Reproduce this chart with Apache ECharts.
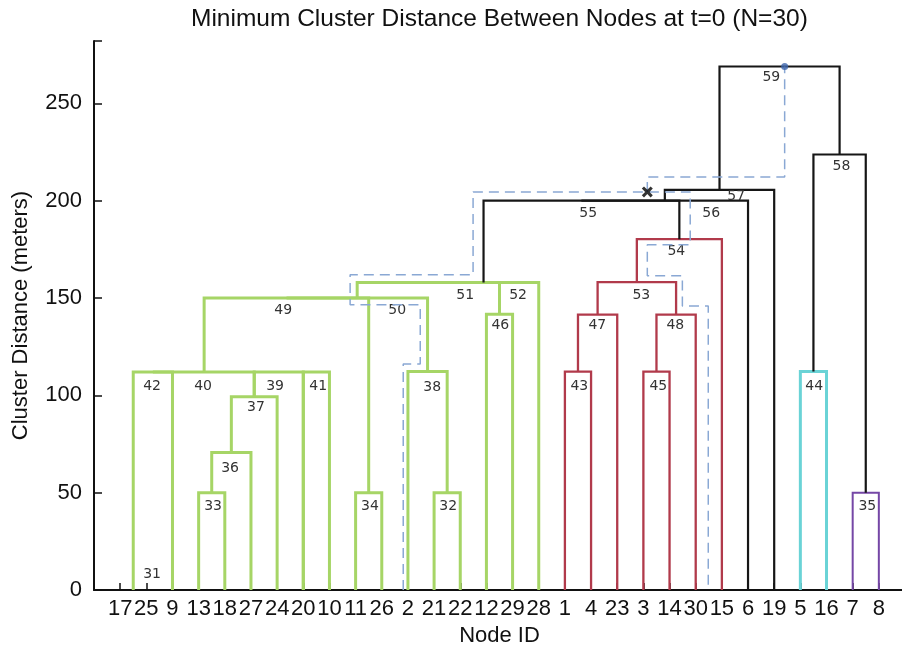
<!DOCTYPE html>
<html><head><meta charset="utf-8">
<script src="https://cdn.jsdelivr.net/npm/echarts@6/dist/echarts.min.js"></script>
<style>html,body{margin:0;padding:0;background:#fff}#c{width:902px;height:648px}</style>
</head><body><div id="c"></div>
<script>
// Leaf order along the x axis (leaf index 1..30)
const leafLabels = ["17","25","9","13","18","27","24","20","10","11","26","2","21","22","12","29","28","1","4","23","3","14","30","15","6","19","5","16","7","8"];

// Dendrogram links: [id, xLeft, xRight, yLeftBottom, yRightBottom, yTop, colour group]
const links = [
  [31, 1, 2, 0, 0, 0, "g"],
  [42, 1.5, 3, 0, 0, 112, "g"],
  [33, 4, 5, 0, 0, 50, "g"],
  [36, 4.5, 6, 50, 0, 70.6, "g"],
  [37, 5.25, 7, 70.6, 0, 99.3, "g"],
  [40, 2.25, 6.125, 112, 99.3, 112, "g"],
  [39, 6.125, 8, 99.3, 0, 112, "g"],
  [41, 8, 9, 0, 0, 112, "g"],
  [34, 10, 11, 0, 0, 50, "g"],
  [49, 4.21, 10.5, 112, 50, 150, "g"],
  [32, 13, 14, 0, 0, 50, "g"],
  [38, 12, 13.5, 0, 50, 112.2, "g"],
  [50, 7.36, 12.75, 150, 112.2, 150, "g"],
  [46, 15, 16, 0, 0, 141.7, "g"],
  [51, 10.06, 15.5, 150, 141.7, 158, "g"],
  [52, 12.78, 17, 158, 0, 158, "g"],
  [43, 18, 19, 0, 0, 112.2, "r"],
  [45, 21, 22, 0, 0, 112.2, "r"],
  [47, 18.5, 20, 112.2, 0, 141.5, "r"],
  [48, 21.5, 23, 112.2, 0, 141.5, "r"],
  [53, 19.25, 22.25, 141.5, 141.5, 158.1, "r"],
  [54, 20.75, 24, 158.1, 0, 180.2, "r"],
  [44, 27, 28, 0, 0, 112.2, "c"],
  [35, 29, 30, 0, 0, 50, "m"],
  [55, 14.89, 22.375, 158, 180.2, 200, "k"],
  [56, 18.63, 25, 200, 0, 200, "k"],
  [57, 21.82, 26, 200, 0, 205.5, "k"],
  [58, 27.5, 29.5, 112.2, 50, 223.7, "k"],
  [59, 23.91, 28.5, 205.5, 223.7, 268.9, "k"]
];

// Node-number annotations: [id, x, y] in data units
const nodeLabels = [
  [31, 2.22, 8.2], [42, 2.22, 104.8], [40, 4.17, 104.8], [39, 6.92, 104.8], [41, 8.57, 104.8],
  [37, 6.19, 94.0], [36, 5.20, 62.7], [33, 4.55, 43.2], [49, 7.23, 143.4], [34, 10.55, 43.2],
  [32, 13.54, 43.2], [38, 12.93, 104.3], [50, 11.59, 143.4], [51, 14.19, 151.1], [52, 16.21, 151.1],
  [46, 15.53, 135.7], [43, 18.55, 104.8], [45, 21.57, 104.8], [44, 27.53, 104.8], [35, 29.56, 43.2],
  [47, 19.24, 135.7], [48, 22.22, 135.7], [53, 20.92, 151.1], [54, 22.26, 174.2], [55, 18.89, 193.7],
  [56, 23.59, 193.7], [57, 24.55, 202.0], [58, 28.57, 217.4], [59, 25.89, 263.1]
];

// Dashed path between the two nodes, and its branch up to the root
const dashedPath = [[11.82,0],[11.82,116.1],[12.47,116.1],[12.47,146.5],[9.79,146.5],[9.79,161.9],[14.49,161.9],[14.49,204.5],[22.79,204.5],[22.79,177.3],[21.15,177.3],[21.15,161.4],[22.49,161.4],[22.49,145.9],[23.48,145.9],[23.48,0]];
const dashedBranch = [[21.15,204.5],[21.15,212.2],[26.40,212.2],[26.40,268.9]];
const crossPoint = [[21.15, 204.5]];
const dotPoint = [[26.40, 268.9]];

const yTicks = [0, 50, 100, 150, 200, 250];

const colors = {g:'#a6d566', r:'#b13a4b', k:'#161616', c:'#6ad3d6', m:'#7547a6'};
const widths = {g:3, r:2.3, k:2.2, c:3, m:2};
const FONT = '"Liberation Sans", Arial, sans-serif';

const chart = echarts.init(document.getElementById('c'), null, {renderer:'canvas'});
chart.setOption({
  backgroundColor:'#fff',
  animation:false,
  title:{text:'Minimum Cluster Distance Between Nodes at t=0 (N=30)', left:186, top:2,
    textStyle:{fontSize:24.5, fontWeight:'normal', color:'#111', fontFamily:FONT}},
  grid:{left:94, top:41, width:811, height:549, containLabel:false, outerBoundsMode:'none'},
  xAxis:{type:'value', min:0, max:31, interval:1,
    axisLine:{lineStyle:{color:'#111', width:2}},
    axisTick:{inside:true, length:7, lineStyle:{color:'#111', width:1.5}},
    axisLabel:{formatter:v => leafLabels[v-1] || '', fontSize:22, color:'#111', fontFamily:FONT, margin:8, hideOverlap:false},
    splitLine:{show:false},
    name:'Node ID', nameLocation:'middle', nameGap:35,
    nameTextStyle:{fontSize:22, color:'#111', fontFamily:FONT}},
  yAxis:{type:'value', min:0, max:282, interval:50,
    axisLine:{lineStyle:{color:'#111', width:2}},
    axisTick:{inside:true, length:8, lineStyle:{color:'#111', width:1.5}},
    axisLabel:{formatter:v => yTicks.indexOf(v) >= 0 ? String(v) : '', fontSize:22, color:'#111', fontFamily:FONT, margin:12},
    splitLine:{show:false},
    name:'Cluster Distance (meters)', nameLocation:'middle', nameGap:62,
    nameTextStyle:{fontSize:22, color:'#111', fontFamily:FONT}},
  series:[
    {type:'custom', coordinateSystem:'cartesian2d', z:3,
      data: links.map(l => l.slice(0,6)),
      encode:{x:[1,2], y:[3,4,5]},
      renderItem:(params, api) => {
        const x1=api.value(1), x2=api.value(2), y1=api.value(3), y2=api.value(4), t=api.value(5);
        if (t === 0) return null;
        const key = links[params.dataIndex][6];
        return {type:'polyline', shape:{points:[api.coord([x1,y1]), api.coord([x1,t]), api.coord([x2,t]), api.coord([x2,y2])]},
          style:{stroke:colors[key], lineWidth:widths[key], fill:null, lineJoin:'miter'}};
      }},
    {type:'custom', coordinateSystem:'cartesian2d', z:4,
      data: nodeLabels.map(n => [n[1], n[2]]),
      encode:{x:0, y:1},
      renderItem:(params, api) => {
        const p = api.coord([api.value(0), api.value(1)]);
        return {type:'text', x:p[0], y:p[1], style:{text:String(nodeLabels[params.dataIndex][0]), fill:'#333',
          font:'14px "DejaVu Sans", Verdana, sans-serif', align:'center', verticalAlign:'middle'}};
      }},
    {type:'line', data:dashedPath, showSymbol:false, z:5, lineStyle:{color:'#8aa8d4', width:1.5, type:[10,6]}},
    {type:'line', data:dashedBranch, showSymbol:false, z:5, lineStyle:{color:'#8aa8d4', width:1.5, type:[10,6]}},
    {type:'scatter', data:crossPoint, z:6, symbol:'path://M2,0L5,3L8,0L10,2L7,5L10,8L8,10L5,7L2,10L0,8L3,5L0,2Z', symbolSize:11, itemStyle:{color:'#000'}},
    {type:'scatter', data:dotPoint, z:6, symbol:'circle', symbolSize:7, itemStyle:{color:'#3f66ad'}}
  ]
});
</script>
</body></html>
